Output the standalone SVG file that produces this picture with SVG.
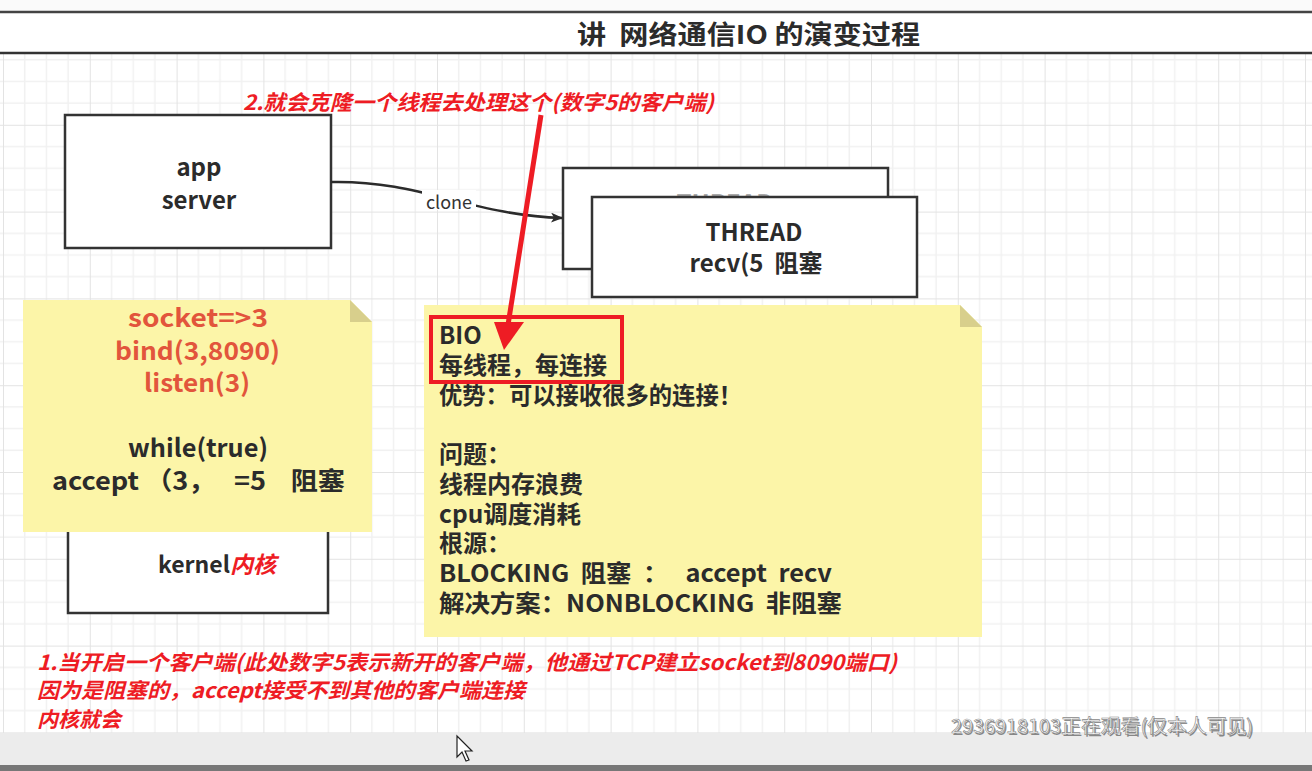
<svg xmlns="http://www.w3.org/2000/svg" width="1312" height="771" viewBox="0 0 1312 771">
<style>
.cjk{font-family:"Noto Sans CJK SC","Liberation Sans",sans-serif}
.box{fill:#fff;stroke:#333;stroke-width:2.5}
.dark{fill:#2b2b2b;font-weight:bold}
.red{fill:#ee1c24;font-weight:bold;font-style:italic}
.note{fill:#fcf5a8}
.fold{fill:#d8cf8c}
.orange{fill:#e2553c;font-weight:bold}
</style>
<defs>
<pattern id="grid" x="3" y="38" width="86.8" height="86.8" patternUnits="userSpaceOnUse">
<path d="M21.7 0V86.8M43.4 0V86.8M65.1 0V86.8M0 21.7H86.8M0 43.4H86.8M0 65.1H86.8" stroke="#f1f1f1" stroke-width="1.5" fill="none"/>
<path d="M0 0V86.8M0 0H86.8" stroke="#e3e3e3" stroke-width="2" fill="none"/>
</pattern>
<marker id="ah" viewBox="0 0 12 10" refX="11" refY="5" markerWidth="12" markerHeight="10" markerUnits="userSpaceOnUse" orient="auto">
<path d="M0 0L12 5L0 10L3 5Z" fill="#2b2b2b"/>
</marker>
</defs>
<rect width="1312" height="771" fill="#fff"/>
<rect x="0" y="53" width="1312" height="680" fill="url(#grid)"/>
<rect x="0" y="0" width="1312" height="12" fill="#fafafa"/>
<rect x="0" y="12" width="1312" height="41" fill="#fff"/>
<line x1="0" y1="12" x2="1312" y2="12" stroke="#444" stroke-width="2.5"/>
<line x1="0" y1="53" x2="1312" y2="53" stroke="#333" stroke-width="2.5"/>
<text class="cjk dark" x="577" y="44" font-size="26" textLength="343" lengthAdjust="spacingAndGlyphs" xml:space="preserve">讲  网络通信IO 的演变过程</text>

<g id="app-server">
<rect class="box" x="65" y="115" width="266" height="133"/>
<text class="cjk dark" x="199" y="176" font-size="24" text-anchor="middle">app</text>
<text class="cjk dark" x="199" y="209" font-size="24" text-anchor="middle">server</text>
</g>

<g id="thread-back">
<rect class="box" x="563" y="168" width="325" height="101"/>
<text class="cjk" x="725" y="212" font-size="24" text-anchor="middle" fill="#aaa" font-weight="bold">THREAD</text>
</g>
<g id="thread-front">
<rect class="box" x="592" y="197" width="325" height="100"/>
<text class="cjk dark" x="754" y="241" font-size="24" text-anchor="middle">THREAD</text>
<text class="cjk dark" x="756" y="272" font-size="24" text-anchor="middle" xml:space="preserve">recv(5  阻塞</text>
</g>

<g id="kernel">
<rect class="box" x="68" y="500" width="260" height="113"/>
<text class="cjk dark" x="158" y="573" font-size="23">kernel<tspan class="red" font-weight="normal" fill="#ee1c24">内核</tspan></text>
</g>

<g id="note-left">
<path class="note" d="M23 300H350L372 322V532H23Z"/>
<path class="fold" d="M350 300V322H372Z"/>
<text class="cjk orange" x="128" y="327" font-size="25" textLength="140" lengthAdjust="spacingAndGlyphs">socket=&gt;3</text>
<text class="cjk orange" x="115" y="360" font-size="25" textLength="165" lengthAdjust="spacingAndGlyphs">bind(3,8090)</text>
<text class="cjk orange" x="144" y="392" font-size="25" textLength="106" lengthAdjust="spacingAndGlyphs">listen(3)</text>
<text class="cjk dark" x="128" y="457" font-size="25" textLength="140" lengthAdjust="spacingAndGlyphs">while(true)</text>
<text class="cjk dark" x="52" y="490" font-size="25" textLength="293" lengthAdjust="spacingAndGlyphs" xml:space="preserve">accept （3，   =5    阻塞</text>
</g>

<g id="note-right">
<path class="note" d="M424 305H960L982 327V637H424Z"/>
<path class="fold" d="M960 305V327H982Z"/>
<g class="cjk dark" font-size="24">
<text x="439" y="344">BIO</text>
<text x="439" y="374">每线程，每连接</text>
<text x="439" y="404" textLength="303" lengthAdjust="spacingAndGlyphs">优势：可以接收很多的连接！</text>
<text x="439" y="463">问题：</text>
<text x="439" y="493">线程内存浪费</text>
<text x="439" y="523" textLength="142" lengthAdjust="spacingAndGlyphs">cpu调度消耗</text>
<text x="439" y="552">根源：</text>
<text x="439" y="582" textLength="393" lengthAdjust="spacingAndGlyphs" xml:space="preserve">BLOCKING  阻塞  ：   accept  recv</text>
<text x="439" y="612" textLength="403" lengthAdjust="spacingAndGlyphs" xml:space="preserve">解决方案：NONBLOCKING  非阻塞</text>
</g>
<rect x="431" y="317" width="191" height="65" fill="none" stroke="#ee1c24" stroke-width="4"/>
</g>

<g id="connectors">
<path d="M331 182C420 180 470 215 562 218" fill="none" stroke="#2b2b2b" stroke-width="2.5" marker-end="url(#ah)"/>
<rect x="422" y="190" width="54" height="20" fill="#fff"/>
<text class="cjk" x="449" y="209" font-size="18" fill="#333" text-anchor="middle">clone</text>
<line x1="541" y1="115" x2="508" y2="325" stroke="#ee1c24" stroke-width="5"/>
<path d="M494 322L524 322L504 350Z" fill="#ee1c24"/>
</g>

<text class="cjk red" x="243" y="110" font-size="21" textLength="471" lengthAdjust="spacingAndGlyphs">2.就会克隆一个线程去处理这个(数字5的客户端)</text>

<g class="cjk red" font-size="21">
<text x="37" y="670" textLength="860" lengthAdjust="spacingAndGlyphs">1.当开启一个客户端(此处数字5表示新开的客户端，他通过TCP建立socket到8090端口)</text>
<text x="37" y="698" textLength="488" lengthAdjust="spacingAndGlyphs">因为是阻塞的，accept接受不到其他的客户端连接</text>
<text x="37" y="727" textLength="84" lengthAdjust="spacingAndGlyphs">内核就会</text>
</g>

<rect x="0" y="733" width="1312" height="32" fill="#ececec"/>
<rect x="0" y="765" width="1312" height="6" fill="#777"/>
<text class="cjk" x="951" y="733" font-size="19" fill="#444" textLength="302" lengthAdjust="spacingAndGlyphs" opacity="0.6" transform="translate(1.5,1.5)">2936918103正在观看(仅本人可见)</text>
<text class="cjk" x="951" y="733" font-size="19" fill="#fff" textLength="302" lengthAdjust="spacingAndGlyphs" stroke="#888" stroke-width="0.6">2936918103正在观看(仅本人可见)</text>
<path d="M457 736V757L462 752L466 761L469 760L465 751L472 751Z" fill="#fff" stroke="#222" stroke-width="1.2"/>
</svg>
